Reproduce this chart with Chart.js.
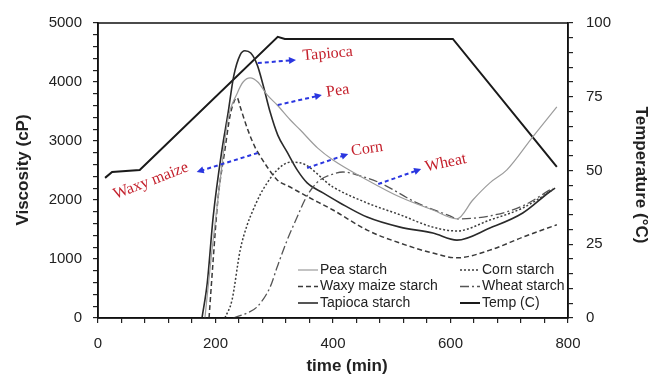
<!DOCTYPE html>
<html>
<head>
<meta charset="utf-8">
<script src="https://cdn.jsdelivr.net/npm/chart.js@4.4.1/dist/chart.umd.min.js"></script>
<style>
  html, body { margin: 0; padding: 0; background: #fff; }
  canvas { display: block; }
</style>
</head>
<body>
<canvas id="rvaChart" width="651" height="380"></canvas>
<script>
// pasting curves, time (min) vs viscosity (cP)
const peaTime = [182, 194, 208, 221, 237, 247, 259, 272, 288, 305, 327, 344, 374, 400, 458, 514, 570, 611, 638, 667, 696, 740, 781];
const peaCp   = [0, 1150, 2340, 3360, 3810, 4000, 4070, 4000, 3780, 3610, 3360, 3190, 2880, 2680, 2340, 2050, 1830, 1680, 2000, 2290, 2510, 3070, 3580];

const cornTime = [216, 228, 242, 254, 264, 276, 288, 305, 327, 344, 400, 458, 514, 570, 611, 667, 723, 774];
const cornCp   = [0, 300, 1150, 1580, 1830, 2090, 2290, 2510, 2640, 2630, 2220, 1950, 1750, 1540, 1475, 1660, 1865, 2170];

const waxyTime = [189, 196, 204, 216, 225, 233, 237, 242, 255, 267, 272, 288, 305, 327, 356, 400, 458, 514, 570, 611, 667, 723, 781];
const waxyCp   = [0, 980, 2000, 2850, 3440, 3700, 3730, 3580, 3190, 2900, 2810, 2560, 2340, 2220, 2060, 1830, 1490, 1270, 1100, 1020, 1150, 1370, 1580];

const wheatTime = [230, 254, 271, 293, 305, 322, 339, 352, 366, 378, 400, 417, 446, 480, 543, 599, 611, 667, 723, 774];
const wheatCp   = [0, 85, 190, 525, 865, 1320, 1710, 2000, 2220, 2340, 2440, 2475, 2410, 2290, 1950, 1730, 1680, 1730, 1900, 2200];

const tapiocaTime = [177, 186, 196, 211, 221, 231, 242, 250, 260, 271, 281, 293, 306, 322, 339, 356, 383, 412, 458, 514, 570, 611, 667, 723, 769, 778];
const tapiocaCp   = [0, 595, 1710, 2850, 3450, 4100, 4460, 4530, 4490, 4290, 3950, 3490, 3100, 2810, 2510, 2290, 2120, 1950, 1710, 1540, 1440, 1320, 1525, 1780, 2140, 2200];

// temperature programme (°C, right axis)
const tempTime = [12, 24, 71, 306, 318, 604, 781];
const tempC    = [47.5, 49.5, 50.2, 95.3, 94.6, 94.6, 51.2];

// axis ticks
const xMajor = [0, 200, 400, 600, 800];
const yMajor = [0, 1000, 2000, 3000, 4000, 5000];
const tMajor = [0, 25, 50, 75, 100];

// red call-outs: label, text anchor (min, cP), angle, arrow from -> to
const noteLabels = ["Tapioca", "Pea", "Waxy maize", "Corn", "Wheat"];
const noteText   = [[391, 4475], [408, 3847], [90, 2322], [458, 2864], [592, 2627]];
const noteAngle  = [-5, -8, -21, -8, -12];
const arrowFrom  = [[272, 4322], [306, 3610], [272, 2797], [356, 2543], [477, 2271]];
const arrowTo    = [[337, 4373], [381, 3780], [168, 2475], [426, 2780], [550, 2525]];

function pts(xs, ys) {
  return xs.map((x, i) => ({ x: x, y: ys[i] }));
}

const sansFont = "'Liberation Sans', Arial, sans-serif";

const frameAndText = {
  id: "frameAndText",
  afterDatasetsDraw(chart) {
    const ctx = chart.ctx;
    const ca = chart.chartArea;
    const sx = chart.scales.x, sy = chart.scales.y;
    ctx.save();

    // box round the plot
    ctx.strokeStyle = "#111";
    ctx.lineWidth = 1.5;
    ctx.setLineDash([]);
    ctx.strokeRect(ca.left, ca.top, ca.right - ca.left, ca.bottom - ca.top);

    // arrows
    for (let i = 0; i < noteLabels.length; i++) {
      const x1 = sx.getPixelForValue(arrowFrom[i][0]), y1 = sy.getPixelForValue(arrowFrom[i][1]);
      const x2 = sx.getPixelForValue(arrowTo[i][0]), y2 = sy.getPixelForValue(arrowTo[i][1]);
      const a = Math.atan2(y2 - y1, x2 - x1);
      ctx.strokeStyle = "#2a36e0";
      ctx.fillStyle = "#2a36e0";
      ctx.lineWidth = 2;
      ctx.setLineDash([4, 3]);
      ctx.beginPath();
      ctx.moveTo(x1, y1);
      ctx.lineTo(x2 - 5 * Math.cos(a), y2 - 5 * Math.sin(a));
      ctx.stroke();
      ctx.setLineDash([]);
      ctx.beginPath();
      ctx.moveTo(x2, y2);
      ctx.lineTo(x2 - 7 * Math.cos(a) + 3.5 * Math.sin(a), y2 - 7 * Math.sin(a) - 3.5 * Math.cos(a));
      ctx.lineTo(x2 - 7 * Math.cos(a) - 3.5 * Math.sin(a), y2 - 7 * Math.sin(a) + 3.5 * Math.cos(a));
      ctx.closePath();
      ctx.fill();

      // label
      ctx.save();
      ctx.translate(sx.getPixelForValue(noteText[i][0]), sy.getPixelForValue(noteText[i][1]));
      ctx.rotate(noteAngle[i] * Math.PI / 180);
      ctx.fillStyle = "#c4202c";
      ctx.font = "16px 'Liberation Serif', 'Times New Roman', serif";
      ctx.textAlign = "center";
      ctx.textBaseline = "middle";
      ctx.fillText(noteLabels[i], 0, 0);
      ctx.restore();
    }

    // legend, two columns inside the plot
    ctx.font = "14px " + sansFont;
    ctx.textBaseline = "middle";
    ctx.textAlign = "left";
    chart.data.datasets.forEach((ds, k) => {
      const col = k % 2, row = Math.floor(k / 2);
      const lx = ca.left + (col === 0 ? 200 : 362);
      const ly = ca.bottom - 48 + row * 16.5;
      ctx.strokeStyle = ds.borderColor;
      ctx.lineWidth = ds.borderWidth;
      ctx.setLineDash(ds.borderDash || []);
      ctx.beginPath();
      ctx.moveTo(lx, ly);
      ctx.lineTo(lx + 20, ly);
      ctx.stroke();
      ctx.setLineDash([]);
      ctx.fillStyle = "#222";
      ctx.fillText(ds.label, lx + 22, ly);
    });

    // axis titles
    ctx.fillStyle = "#222";
    ctx.font = "bold 17px " + sansFont;
    ctx.textAlign = "center";
    ctx.textBaseline = "middle";
    ctx.fillText("time (min)", 347, 366);
    ctx.save();
    ctx.translate(23, 170);
    ctx.rotate(-Math.PI / 2);
    ctx.fillText("Viscosity (cP)", 0, 0);
    ctx.restore();
    ctx.save();
    ctx.translate(641, 175);
    ctx.rotate(Math.PI / 2);
    ctx.fillText("Temperature (°C)", 0, 0);
    ctx.restore();

    ctx.restore();
  }
};

function axisTicks(major) {
  return {
    color: "#222",
    font: { family: sansFont, size: 15 },
    autoSkip: false,
    maxRotation: 0,
    callback: (v) => (major.includes(v) ? String(v) : "")
  };
}

const tickGrid = { drawOnChartArea: false, drawTicks: true, tickLength: 5, color: "#222", lineWidth: 1.2 };

new Chart(document.getElementById("rvaChart"), {
  type: "line",
  data: {
    datasets: [
      { label: "Pea starch", data: pts(peaTime, peaCp), borderColor: "#9c9c9c", borderWidth: 1.2, yAxisID: "y" },
      { label: "Corn starch", data: pts(cornTime, cornCp), borderColor: "#3c3c3c", borderWidth: 1.5, borderDash: [2, 2], yAxisID: "y" },
      { label: "Waxy maize starch", data: pts(waxyTime, waxyCp), borderColor: "#3a3a3a", borderWidth: 1.5, borderDash: [5, 3], yAxisID: "y" },
      { label: "Wheat starch", data: pts(wheatTime, wheatCp), borderColor: "#555", borderWidth: 1.3, borderDash: [9, 3, 2, 3], yAxisID: "y" },
      { label: "Tapioca starch", data: pts(tapiocaTime, tapiocaCp), borderColor: "#2a2a2a", borderWidth: 1.6, yAxisID: "y" },
      { label: "Temp (C)", data: pts(tempTime, tempC), borderColor: "#1a1a1a", borderWidth: 2, tension: 0, cubicInterpolationMode: "default", yAxisID: "y1" }
    ]
  },
  options: {
    responsive: false,
    animation: false,
    devicePixelRatio: 1,
    layout: { padding: { top: 23, left: 0, right: 0, bottom: 0 } },
    elements: {
      point: { radius: 0 },
      line: { cubicInterpolationMode: "monotone", fill: false }
    },
    plugins: {
      legend: { display: false },
      tooltip: { enabled: false }
    },
    scales: {
      x: {
        type: "linear",
        min: 0,
        max: 800,
        ticks: Object.assign({ stepSize: 40, padding: 12 }, axisTicks(xMajor)),
        grid: tickGrid,
        border: { color: "#111", width: 1.5 },
        afterFit: (s) => { s.height = 62; }
      },
      y: {
        position: "left",
        min: 0,
        max: 5000,
        ticks: Object.assign({ stepSize: 200, padding: 11 }, axisTicks(yMajor)),
        grid: tickGrid,
        border: { color: "#111", width: 1.5 },
        afterFit: (s) => { s.width = 98; }
      },
      y1: {
        position: "right",
        min: 0,
        max: 100,
        ticks: Object.assign({ stepSize: 5, padding: 13 }, axisTicks(tMajor)),
        grid: tickGrid,
        border: { color: "#111", width: 1.5 },
        afterFit: (s) => { s.width = 83; }
      }
    }
  },
  plugins: [frameAndText]
});
</script>
</body>
</html>
